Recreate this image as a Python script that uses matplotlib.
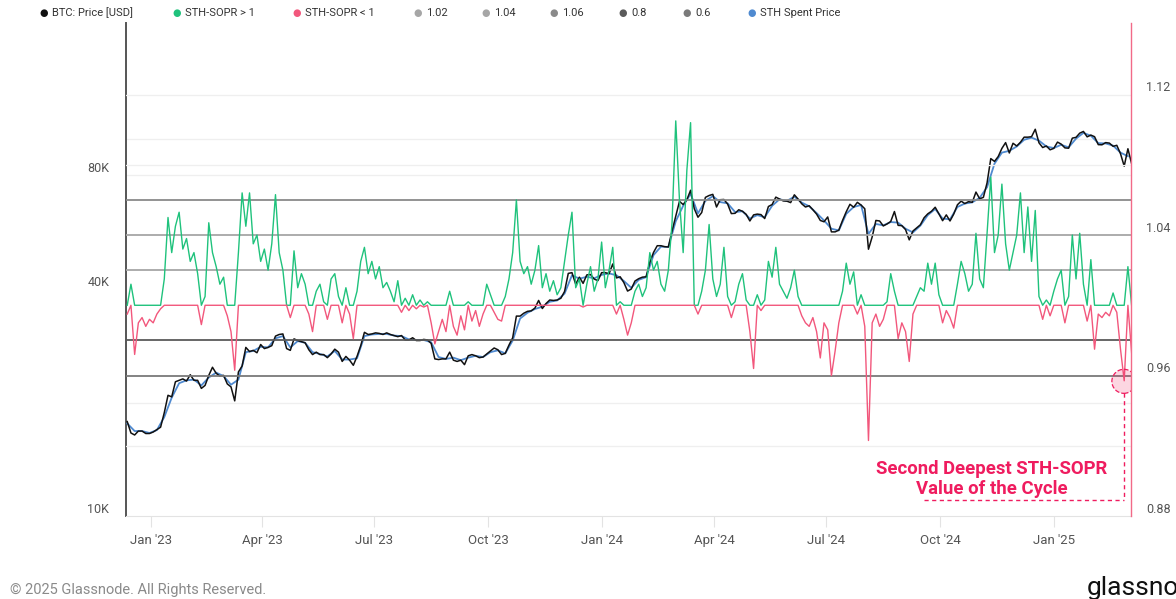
import numpy as np
import matplotlib
matplotlib.use("Agg")
import matplotlib.pyplot as plt
import matplotlib.dates as mdates
from matplotlib.ticker import FixedLocator, NullFormatter

plt.rcParams['font.family'] = ['Roboto', 'DejaVu Sans']

# ---------------- data ----------------
start_date = '2022-12-13'   # first sample, 3-day spacing
step_days = 3

btc_price_k = [
    17.8, 16.6, 16.4, 16.8, 16.8, 16.55, 16.55, 16.7, 16.95, 17.2,
    18.8, 20.9, 20.7, 22.7, 22.9, 23.1, 22.8, 23.7, 22.9, 22.9,
    21.8, 22.2, 23.6, 24.8, 23.9, 23.5, 23.6, 22.4, 22.0, 20.2,
    24.1, 25.0, 28.0, 27.3, 27.5, 27.1, 28.5, 27.8, 28.0, 28.3,
    30.0, 30.3, 30.4, 27.8, 27.5, 29.5, 29.2, 29.0, 28.8, 27.6,
    26.8, 27.2, 26.8, 26.8, 26.3, 26.9, 27.7, 27.2, 25.7, 26.5,
    25.9, 25.1, 26.5, 28.3, 30.7, 30.3, 30.4, 30.6, 30.5, 30.3,
    30.6, 30.3, 30.1, 29.9, 30.1, 29.3, 29.3, 29.7, 29.2, 29.2,
    29.4, 29.3, 28.7, 26.1, 26.0, 26.1, 26.1, 27.2, 25.9, 25.7,
    25.9, 25.2, 26.6, 26.8, 26.6, 26.3, 26.4, 26.9, 27.4, 27.9,
    27.6, 26.8, 27.0, 28.4, 29.7, 33.9, 33.9, 34.5, 34.9, 35.0,
    35.6, 37.3, 35.5, 36.6, 37.4, 37.3, 37.4, 37.8, 39.4, 44.0,
    44.2, 41.2, 43.0, 41.4, 43.6, 43.7, 42.5, 42.1, 44.2, 44.2,
    43.9, 46.6, 42.8, 43.1, 41.6, 39.5, 40.0, 42.0, 42.6, 43.0,
    43.1, 47.1, 50.0, 52.1, 52.1, 51.8, 51.7, 57.0, 62.4, 68.3,
    67.0, 69.0, 73.1, 65.3, 62.0, 63.8, 70.0, 70.8, 71.3, 66.0,
    69.0, 69.1, 67.2, 63.4, 63.5, 64.9, 64.3, 63.1, 60.6, 62.9,
    63.2, 63.0, 61.5, 66.2, 67.0, 70.1, 69.3, 68.5, 68.4, 67.8,
    71.1, 69.3, 67.3, 66.0, 66.5, 64.9, 63.2, 60.8, 60.3, 62.1,
    56.7, 56.7, 57.3, 60.8, 64.1, 67.1, 65.9, 67.9, 66.8, 65.3,
    51.0, 55.0, 60.8, 60.6, 58.8, 59.5, 60.4, 64.2, 59.0, 58.9,
    57.5, 54.0, 57.0, 58.1, 59.2, 61.8, 63.3, 64.3, 65.9, 63.3,
    60.7, 62.9, 60.6, 63.2, 66.9, 68.4, 67.4, 68.2, 67.9, 72.3,
    69.4, 70.0, 76.5, 88.7, 87.2, 89.8, 94.4, 97.8, 91.8, 97.4,
    95.8, 98.0, 101.1, 101.1, 101.4, 106.1, 97.7, 94.9, 95.8, 93.6,
    94.4, 98.1, 96.9, 94.7, 94.5, 100.5, 101.0, 103.6, 104.7, 101.3,
    102.4, 101.4, 96.6, 96.5, 97.8, 97.5, 95.6, 96.2, 91.4, 84.7,
    94.2, 86.0,
]

sth_sopr = [
    0.995, 1.012, 0.972, 0.990, 0.993, 0.988, 0.992, 0.990, 0.995, 0.998,
    1.015, 1.050, 1.030, 1.045, 1.053, 1.032, 1.038, 1.025, 1.030, 1.018,
    0.989, 1.005, 1.047, 1.030, 1.022, 1.012, 1.016, 0.994, 0.985, 0.963,
    1.030, 1.064, 1.045, 1.064, 1.035, 1.040, 1.025, 1.032, 1.020, 1.035,
    1.063, 1.030, 1.020, 1.000, 0.993, 1.031, 1.010, 1.018, 1.012, 0.995,
    0.985, 1.008, 1.012, 1.002, 0.992, 1.015, 1.018, 1.005, 0.990, 1.010,
    0.995, 0.981, 1.008, 1.025, 1.033, 1.018, 1.025, 1.015, 1.022, 1.010,
    1.013, 1.008, 1.002, 1.014, 0.996, 1.004, 0.997, 1.006, 0.998, 1.003,
    0.999, 1.002, 0.990, 0.978, 0.985, 0.992, 0.985, 1.008, 0.988, 0.983,
    0.994, 0.986, 1.002, 0.991, 0.997, 0.988, 0.995, 1.012, 1.006, 0.996,
    0.992, 0.991, 1.005, 1.015, 1.030, 1.060, 1.025, 1.018, 1.022, 1.012,
    1.020, 1.034, 1.010, 1.018, 1.008, 1.014, 1.006, 1.010, 1.025, 1.040,
    1.053, 1.010, 1.015, 0.999, 1.012, 1.022, 1.008, 1.015, 1.036, 1.010,
    1.020, 1.033, 0.995, 1.002, 0.992, 0.983, 0.990, 1.008, 1.012, 1.005,
    1.010, 1.030, 1.020, 1.025, 1.012, 1.008, 1.020, 1.047, 1.105, 1.060,
    1.030, 1.077, 1.104, 1.000, 0.995, 1.008, 1.020, 1.046, 1.015, 1.005,
    1.012, 1.033, 1.005, 0.993, 1.002, 1.012, 1.018, 1.003, 0.985, 0.964,
    1.006, 0.997, 1.003, 1.025, 1.016, 1.033, 1.012, 1.008, 1.004, 1.010,
    1.020, 1.005, 0.994, 0.990, 0.988, 0.993, 0.985, 0.970, 0.990, 0.986,
    0.960, 0.974, 0.990, 1.008, 1.024, 1.012, 1.019, 0.995, 1.006, 0.988,
    0.923, 0.990, 0.995, 0.988, 0.992, 1.002, 1.018, 1.008, 0.981, 0.990,
    0.985, 0.968, 0.995, 1.005, 1.010, 1.008, 1.024, 1.012, 1.024, 1.006,
    0.990, 0.997, 0.993, 0.987, 1.012, 1.025, 1.018, 1.008, 1.012, 1.041,
    1.015, 1.010, 1.041, 1.073, 1.030, 1.040, 1.069, 1.035, 1.020, 1.030,
    1.040, 1.064, 1.030, 1.056, 1.025, 1.054, 1.005, 0.992, 1.003, 0.994,
    1.008, 1.015, 1.020, 0.990, 1.005, 1.040, 1.015, 1.041, 1.012, 0.991,
    1.026, 0.975, 0.995, 0.993, 0.996, 0.994, 1.007, 0.996, 0.975, 0.957,
    1.022, 0.973,
]

sth_spent_start = '2022-12-13'
sth_spent_step_days = 6
sth_spent_price_k = [
    17.6, 16.8, 16.8, 16.6, 16.9, 18.3, 20.6, 22.5, 22.9, 23.0,
    22.2, 23.3, 24.0, 23.5, 22.3, 23.0, 27.2, 27.4, 28.1, 28.0,
    29.6, 30.0, 28.0, 29.1, 28.8, 27.2, 26.9, 26.5, 27.4, 26.0,
    26.0, 26.2, 30.0, 30.3, 30.4, 30.4, 30.1, 30.0, 29.4, 29.3,
    29.3, 28.9, 26.4, 26.1, 26.3, 25.9, 26.3, 26.6, 26.4, 27.2,
    27.5, 27.0, 29.2, 33.4, 34.6, 35.4, 35.9, 37.0, 37.3, 38.9,
    43.5, 42.6, 43.1, 42.7, 43.6, 44.0, 43.5, 42.0, 40.3, 42.3,
    43.0, 49.2, 51.8, 51.7, 60.5, 66.5, 71.5, 63.5, 68.5, 70.5,
    68.0, 67.5, 64.0, 64.3, 61.5, 62.8, 62.0, 66.5, 69.2, 68.5,
    70.3, 67.8, 66.3, 63.6, 60.8, 57.8, 57.2, 63.3, 66.0, 66.8,
    56.0, 59.5, 59.0, 60.2, 60.0, 57.8, 56.5, 58.9, 62.8, 65.2,
    61.5, 61.2, 66.0, 67.4, 67.9, 69.8, 74.5, 86.0, 92.0, 93.0,
    95.5, 99.5, 100.8, 99.0, 95.5, 94.6, 96.5, 95.0, 100.2, 103.8,
    102.0, 97.5, 97.3, 96.0, 92.0, 90.0,
]

sopr_levels = [1.02, 1.04, 1.06, 0.98, 0.96]
sopr_level_labels = ['1.02', '1.04', '1.06', '0.8', '0.6']

left_tick_vals = [10000, 40000, 80000]
left_tick_labels = ['10K', '40K', '80K']
right_tick_vals = [0.88, 0.96, 1.04, 1.12]
right_tick_labels = ['0.88', '0.96', '1.04', '1.12']

# ---------------- styles ----------------
C_GREEN = '#1fc27c'
C_RED = '#f2577c'
C_BTC = '#111111'
C_STH = '#4f8ad0'
C_PINK = '#ef1c5f'
level_colors = ['#a6a6a6', '#a6a6a6', '#8a8a8a', '#5a5a5a', '#7a7a7a']

dates = np.datetime64(start_date) + np.arange(len(btc_price_k)) * np.timedelta64(step_days, 'D')
sopr_dates = np.datetime64(start_date) + np.arange(len(sth_sopr)) * np.timedelta64(step_days, 'D')
sth_dates = np.datetime64(sth_spent_start) + np.arange(len(sth_spent_price_k)) * np.timedelta64(sth_spent_step_days, 'D')

price = np.array(btc_price_k) * 1000
sth = np.array(sth_spent_price_k) * 1000
sopr = np.array(sth_sopr)

fig = plt.figure(figsize=(11.76, 5.99), dpi=100)
ax = fig.add_axes([126/1176, 1-516/599, (1131-126)/1176, (516-23)/599])
ax2 = ax.twinx()

# left: price (log)
ax.set_yscale('log')
ax.set_ylim(10000, 10000 * 2 ** (493/113.5))
xmin = np.datetime64('2022-12-12T00')
xmax = np.datetime64('2025-03-04T12')
ax.set_xlim(xmin, xmax)

# faint grids
for v in [20000, 80000, 100000]:
    ax.axhline(v, color='#efefef', lw=0.9, zorder=0)

ax.plot(sth_dates, sth, color=C_STH, lw=1.3, zorder=3)
ax.plot(dates, price, color=C_BTC, lw=1.1, zorder=4)

ax.yaxis.set_major_locator(FixedLocator(left_tick_vals))
ax.yaxis.set_minor_locator(FixedLocator([]))
ax.yaxis.set_major_formatter(NullFormatter())
ax.yaxis.set_minor_formatter(NullFormatter())
ax.tick_params(axis='y', length=0)
for v, lbl in zip(left_tick_vals, left_tick_labels):
    ax.annotate(lbl, xy=(0, v), xycoords=('axes fraction', 'data'),
                xytext=(-12, 5), textcoords='offset points',
                ha='right', va='center', fontsize=9, color='#555555')

# x axis
ax.xaxis.set_major_locator(mdates.MonthLocator(bymonth=[1, 4, 7, 10]))
ax.xaxis.set_major_formatter(mdates.DateFormatter("%b '%y"))
ax.tick_params(axis='x', length=8, color='#e3e3e3', labelsize=9.5, labelcolor='#555555', pad=5)

for s in ['top', 'right']:
    ax.spines[s].set_visible(False)
ax.spines['left'].set_color('#555555')
ax.spines['left'].set_linewidth(1.4)
ax.spines['bottom'].set_color('#e3e3e3')

# right: SOPR
ax2.set_ylim(0.88, 0.88 + 493/1756)
for v in [0.92, 1.08, 1.12]:
    ax2.axhline(v, color='#efefef', lw=0.9, zorder=0)
for v, c in zip(sopr_levels, level_colors):
    ax2.axhline(v, color=c, lw=1.3, zorder=1)

ax2.plot(sopr_dates, np.maximum(sopr, 1.0), color=C_GREEN, lw=1.0, zorder=2)
ax2.plot(sopr_dates, np.minimum(sopr, 1.0), color=C_RED, lw=1.0, zorder=2)

ax2.yaxis.set_major_locator(FixedLocator(right_tick_vals))
ax2.yaxis.set_major_formatter(NullFormatter())
ax2.tick_params(axis='y', length=0)
for v, lbl in zip(right_tick_vals, right_tick_labels):
    ax2.annotate(lbl, xy=(1, v), xycoords=('axes fraction', 'data'),
                 xytext=(11, 5), textcoords='offset points',
                 ha='left', va='center', fontsize=9, color='#555555')
for s in ['top', 'left', 'bottom']:
    ax2.spines[s].set_visible(False)
ax2.spines['right'].set_color('#f26a88')
ax2.spines['right'].set_linewidth(1.0)

# annotation
mark_x = np.datetime64('2025-02-26T18')
mark_y = 0.9567
ax2.scatter([mark_x], [mark_y], s=300, facecolor=(0.94, 0.11, 0.37, 0.18),
            edgecolor=C_PINK, linestyle='--', linewidth=0.9, zorder=6)
ax2.plot([mark_x, mark_x], [0.9499, 0.889], color=C_PINK, lw=1.0, ls=(0, (3, 2.5)), zorder=6)
ax2.plot([np.datetime64('2024-09-18'), mark_x], [0.889, 0.889], color=C_PINK, lw=1.0, ls=(0, (3, 2.5)), zorder=6)
ax2.text(np.datetime64('2024-11-12'), 0.9012, 'Second Deepest STH-SOPR\nValue of the Cycle',
         ha='center', va='center', fontsize=13.3, fontweight='bold', color=C_PINK,
         linespacing=1.15, zorder=7)

# legend (top)
legend_items = [
    (44, 52, '#111111', 'BTC: Price [USD]'),
    (177, 185, C_GREEN, 'STH-SOPR > 1'),
    (297, 305, C_RED, 'STH-SOPR < 1'),
    (418, 426, level_colors[0], sopr_level_labels[0]),
    (486, 494, level_colors[1], sopr_level_labels[1]),
    (554, 562, level_colors[2], sopr_level_labels[2]),
    (623, 631, level_colors[3], sopr_level_labels[3]),
    (687, 695, level_colors[4], sopr_level_labels[4]),
    (752, 760, C_STH, 'STH Spent Price'),
]
for dx, tx, c, lbl in legend_items:
    fig.text(dx/1176, 1-13/599, '\u25CF', color=c, fontsize=7, ha='center', va='center',
             family=['DejaVu Sans'])
    fig.text(tx/1176, 1-13/599, lbl, color='#333333', fontsize=8, ha='left', va='center')

# footer
fig.text(10/1176, 1-590/599, '\u00A9 2025 Glassnode. All Rights Reserved.', color='#8a8a8a',
         fontsize=10.5, ha='left', va='center')
fig.text(1087/1176, 1-588/599, 'glassnode', color='#111111', fontsize=19, ha='left', va='center')

fig.savefig('out.png', dpi=100)
